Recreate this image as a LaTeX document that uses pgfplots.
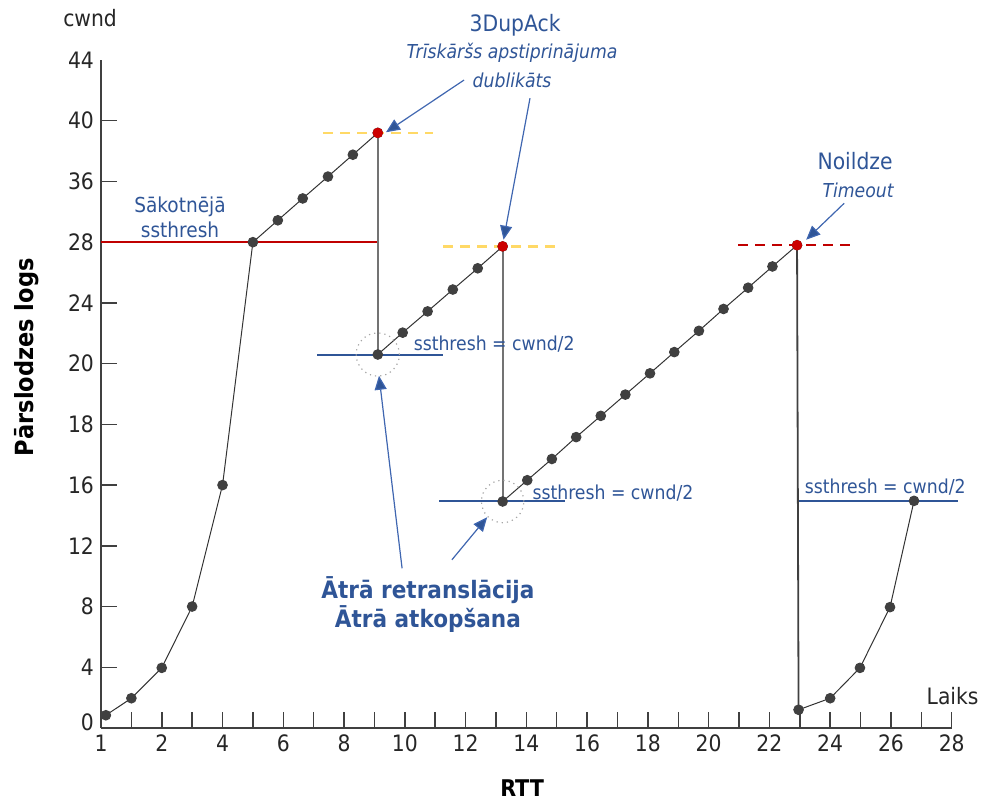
\documentclass[border=0pt]{standalone}
\usepackage{pgfplots}
\pgfplotsset{compat=1.18}
\usepackage{fontspec}
\setmainfont{DejaVu Sans Condensed}
\usetikzlibrary{arrows.meta}

\definecolor{ablue}{HTML}{2F5597}
\definecolor{lblue}{HTML}{3F66B0}
\definecolor{dred}{HTML}{C00000}
\definecolor{pred}{HTML}{CC0000}
\definecolor{ylw}{HTML}{FFD966}
\definecolor{ptgray}{HTML}{404040}
\definecolor{axgray}{HTML}{404040}

\newcommand{\fbig}{\fontsize{11.3}{13}\selectfont}
\newcommand{\fmid}{\fontsize{9.6}{11}\selectfont}
\newcommand{\fbold}{\fontsize{12}{14}\selectfont\bfseries}

\begin{document}
\begin{tikzpicture}
\useasboundingbox (-50.5pt,-37pt) rectangle (440.5pt,364pt);
\begin{axis}[
  at={(0pt,0pt)}, anchor=south west,
  scale only axis, width=425.35pt, height=334pt,
  xmin=0, xmax=28, ymin=0, ymax=11,
  axis lines=left,
  axis line style={-, axgray, line width=0.75pt},
  clip=false,
  xtick={0,...,28},
  xticklabels={1,,2,,4,,6,,8,,10,,12,,14,,16,,18,,20,,22,,24,,26,,28},
  ytick={1,...,10},
  yticklabels={4,8,12,16,18,20,24,28,36,40},
  extra y ticks={11}, extra y tick labels={44},
  extra y tick style={major tick length=0pt},
  tick style={axgray, line width=0.75pt},
  major tick length=8pt,
  tick align=inside,
  ticklabel style={font=\fbig, text=black!85},
  xlabel={RTT},
  xlabel style={at={(axis description cs:0.495,-0.090)}, anchor=center, font=\fontsize{11.5}{13}\selectfont\bfseries},
  ylabel={Pārslodzes logs},
  ylabel style={at={(axis description cs:-0.087,0.555)}, anchor=center, font=\fontsize{12.5}{14}\selectfont\bfseries},
]

% threshold and loss-level guide lines
\draw[dred, line width=1pt] (axis cs:0,8) -- (axis cs:9.11,8);
\draw[ylw, line width=1.2pt, dash pattern=on 5pt off 3.5pt] (axis cs:7.31,9.80) -- (axis cs:10.93,9.80);
\draw[ylw, line width=1.2pt, dash pattern=on 5pt off 3.5pt] (axis cs:11.26,7.93) -- (axis cs:14.94,7.93);
\draw[dred, line width=1.2pt, dash pattern=on 5pt off 3.5pt] (axis cs:20.97,7.95) -- (axis cs:24.65,7.95);
\draw[ablue, line width=1pt] (axis cs:7.12,6.15) -- (axis cs:11.27,6.15);
\draw[ablue, line width=1pt] (axis cs:11.14,3.73) -- (axis cs:15.27,3.73);
\draw[ablue, line width=1pt] (axis cs:22.96,3.73) -- (axis cs:28.21,3.73);

% drops of the window
\addplot[gray!90!black, line width=0.9pt] coordinates {(9.11,9.80) (9.11,6.15)};
\addplot[gray!90!black, line width=0.9pt] coordinates {(13.22,7.93) (13.22,3.73)};
\addplot[black!75, line width=0.9pt] coordinates {(22.91,7.95) (22.96,0.30)};

% slow start, then congestion avoidance
\addplot[black!80, line width=0.5pt, mark=*, mark size=2.4pt, mark options={fill=ptgray, draw=ptgray}]
  coordinates {(0.16,0.21) (1,0.49) (2,0.99) (3,2) (4,4) (5,8)
               (5.82,8.36) (6.64,8.72) (7.47,9.08) (8.29,9.44) (9.11,9.80)};
\addplot[black!80, line width=0.5pt, mark=*, mark size=2.4pt, mark options={fill=ptgray, draw=ptgray}]
  coordinates {(9.11,6.15) (9.93,6.51) (10.75,6.86) (11.58,7.22) (12.40,7.57) (13.22,7.93)};
\addplot[black!80, line width=0.5pt, mark=*, mark size=2.4pt, mark options={fill=ptgray, draw=ptgray}]
  coordinates {(13.22,3.73) (14.03,4.08) (14.84,4.43) (15.64,4.79) (16.45,5.14) (17.26,5.49)
               (18.07,5.84) (18.87,6.19) (19.68,6.54) (20.49,6.90) (21.30,7.25) (22.10,7.60) (22.91,7.95)};
\addplot[black!80, line width=0.5pt, mark=*, mark size=2.4pt, mark options={fill=ptgray, draw=ptgray}]
  coordinates {(22.96,0.30) (24.0,0.49) (24.98,0.99) (25.97,1.99) (26.76,3.74)};

% loss events
\addplot[only marks, mark=*, mark size=2.4pt, mark options={fill=pred, draw=pred}]
  coordinates {(9.11,9.80) (13.22,7.93) (22.91,7.95)};

% fast retransmit neighbourhoods
\draw[gray!70, dotted, line width=0.6pt] (axis cs:9.11,6.15) circle[radius=10.8pt];
\draw[gray!70, dotted, line width=0.6pt] (axis cs:13.22,3.73) circle[radius=10.6pt];

% arrows
\tikzset{ann/.style={lblue, line width=0.6pt, -{Triangle[length=7pt, width=6pt, fill=ablue]}}}
\draw[ann] (axis cs:11.95,10.67) -- (axis cs:9.38,9.81);
\draw[ann] (axis cs:14.12,10.37) -- (axis cs:13.25,8.04);
\draw[ann] (axis cs:24.46,8.64) -- (axis cs:23.21,8.04);
\draw[ann] (axis cs:9.91,2.63) -- (axis cs:9.15,5.80);
\draw[ann] (axis cs:11.55,2.77) -- (axis cs:12.71,3.47);

% labels
\node[text=black!85, font=\fbig, anchor=east] at (axis cs:0,0.1) {0};
\node[text=black!85, font=\fbig] at (axis cs:-0.36,11.69) {cwnd};
\node[text=black!85, font=\fbig] at (axis cs:28.03,0.53) {Laiks};
\node[ablue, font=\fbig] at (axis cs:13.63,11.58) {3DupAck};
\node[ablue, font=\fmid\itshape] at (axis cs:13.53,11.11) {Trīskāršs apstiprinājuma};
\node[ablue, font=\fmid\itshape] at (axis cs:13.53,10.67) {dublikāts};
\node[ablue, font=\fbig] at (axis cs:24.82,9.34) {Noildze};
\node[ablue, font=\fmid\itshape] at (axis cs:24.92,8.86) {Timeout};
\node[ablue, font=\fontsize{10.3}{12}\selectfont] at (axis cs:2.60,8.58) {Sākotnējā};
\node[ablue, font=\fontsize{10.3}{12}\selectfont] at (axis cs:2.60,8.20) {ssthresh};
\node[ablue, font=\fmid] at (axis cs:12.94,6.32) {ssthresh = cwnd/2};
\node[ablue, font=\fmid] at (axis cs:16.85,3.87) {ssthresh = cwnd/2};
\node[ablue, font=\fmid] at (axis cs:25.81,3.97) {ssthresh = cwnd/2};
\node[ablue, font=\fbold] at (axis cs:10.76,2.27) {Ātrā retranslācija};
\node[ablue, font=\fbold] at (axis cs:10.76,1.79) {Ātrā atkopšana};
\end{axis}
\end{tikzpicture}
\end{document}
